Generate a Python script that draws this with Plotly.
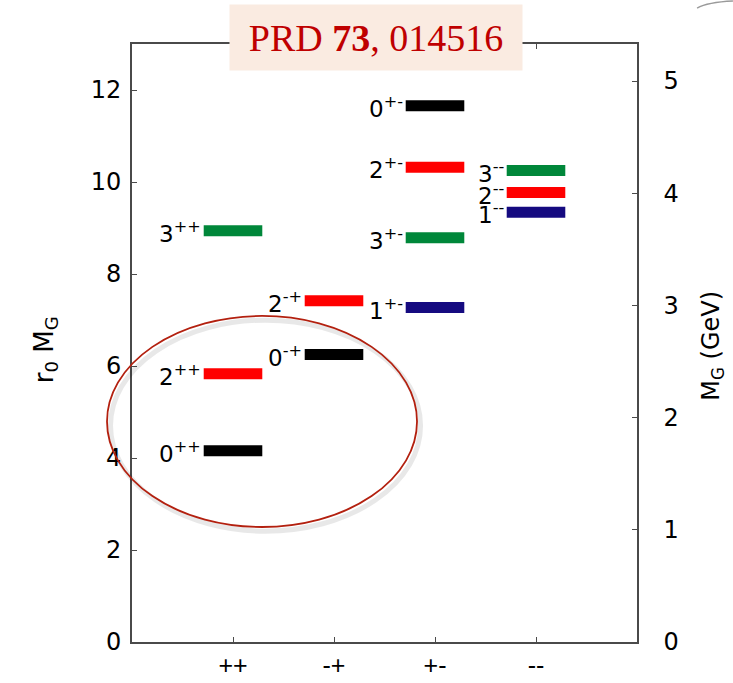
import plotly.graph_objects as go

# Quenched glueball spectrum, r0*M_G per J^PC channel
pc_labels = ["++", "-+", "+-", "--"]
pc_pos = [1, 2, 3, 4]

j_pp = ["0", "2", "3"]
m_pp = [4.16, 5.83, 8.94]

j_mp = ["0", "2"]
m_mp = [6.25, 7.42]

j_pm = ["1", "3", "2", "0"]
m_pm = [7.27, 8.79, 10.32, 11.66]

j_mm = ["1", "2", "3"]
m_mm = [9.34, 9.77, 10.25]

r0_inv_gev = 0.410          # 1/r0 in GeV
y_max = 13.0
gev_ticks = [0, 1, 2, 3, 4, 5]
r0m_ticks = [0, 2, 4, 6, 8, 10, 12]

spin_colors = {"0": "#000000", "1": "#150a80", "2": "#ff0000", "3": "#00873a"}
half_w = 0.29

channels = [
    (pc_labels[0], pc_pos[0], j_pp, m_pp),
    (pc_labels[1], pc_pos[1], j_mp, m_mp),
    (pc_labels[2], pc_pos[2], j_pm, m_pm),
    (pc_labels[3], pc_pos[3], j_mm, m_mm),
]

fig = go.Figure()
annotations = []
font_main = "DejaVu Sans, Verdana, sans-serif"
font_tick = "Liberation Sans, Arial, Helvetica, sans-serif"

for pc, xc, js, ms in channels:
    for j, m in zip(js, ms):
        fig.add_trace(go.Scatter(
            x=[xc - half_w, xc + half_w], y=[m, m], mode="lines",
            line=dict(color=spin_colors[j], width=11),
            showlegend=False, hoverinfo="skip",
        ))
        annotations.append(dict(
            x=xc - half_w, y=m, xref="x", yref="y",
            text=f"{j}<sup>{pc}</sup>", showarrow=False,
            xanchor="right", yanchor="middle", xshift=-1, yshift=-1,
            font=dict(family=font_main, size=23, color="#000000"),
        ))

# same levels on the GeV scale, carried by the right-hand axis
all_m = m_pp + m_mp + m_pm + m_mm
all_x = [pc_pos[0]] * len(m_pp) + [pc_pos[1]] * len(m_mp) + [pc_pos[2]] * len(m_pm) + [pc_pos[3]] * len(m_mm)
fig.add_trace(go.Scatter(
    x=all_x, y=[v * r0_inv_gev for v in all_m], yaxis="y2",
    mode="markers", marker=dict(size=1, opacity=0),
    showlegend=False, hoverinfo="skip",
))

# axis titles
annotations.append(dict(
    x=-0.172, y=0.488, xref="paper", yref="paper",
    xanchor="center", yanchor="middle",
    text="r<sub>0</sub> M<sub>G</sub>", textangle=-90, showarrow=False,
    font=dict(family=font_main, size=26, color="#000000"),
))
annotations.append(dict(
    x=1.150, y=0.495, xref="paper", yref="paper",
    xanchor="center", yanchor="middle",
    text="M<sub>G</sub> (GeV)", textangle=-90, showarrow=False,
    font=dict(family=font_main, size=24, color="#000000"),
))

# reference box
annotations.append(dict(
    x=0.483, y=1.0109, xref="paper", yref="paper",
    text="PRD <b>73</b>, 014516", showarrow=False,
    xanchor="center", yanchor="middle",
    width=292, height=65, borderpad=0, bgcolor="#faebe1",
    font=dict(family="Liberation Serif, Times New Roman, serif", size=38, color="#bf0000"),
))

axis_line = "#4a4a4a"
fig.update_layout(
    width=733, height=683,
    margin=dict(l=132, r=96, t=44, b=41, autoexpand=False),
    paper_bgcolor="white", plot_bgcolor="white",
    showlegend=False,
    xaxis=dict(
        range=[0, 5], tickvals=pc_pos, ticktext=pc_labels,
        showline=True, linecolor=axis_line, linewidth=1.6, mirror="ticks",
        ticks="inside", ticklen=5, tickwidth=1.2, tickcolor=axis_line,
        showgrid=False, zeroline=False, ticklabelstandoff=0, automargin=False,
        tickfont=dict(family=font_tick, size=25, color="#000000"),
    ),
    yaxis=dict(
        range=[0, y_max], tickvals=r0m_ticks,
        showline=True, linecolor=axis_line, linewidth=1.6,
        ticks="inside", ticklen=5, tickwidth=1.2, tickcolor=axis_line,
        showgrid=False, zeroline=False, ticklabelstandoff=4, automargin=False,
        tickfont=dict(family=font_main, size=24, color="#000000"),
    ),
    yaxis2=dict(
        range=[0, y_max * r0_inv_gev], tickvals=gev_ticks,
        overlaying="y", side="right",
        showline=True, linecolor=axis_line, linewidth=1.6,
        ticks="inside", ticklen=5, tickwidth=1.2, tickcolor=axis_line,
        showgrid=False, zeroline=False, ticklabelstandoff=20, automargin=False,
        tickfont=dict(family=font_main, size=24, color="#000000"),
    ),
    annotations=annotations,
    shapes=[
        # soft shadow under the highlight ellipse
        dict(type="circle", xref="paper", yref="paper", layer="above",
             x0=-0.0425, x1=0.5714, y0=0.1853, y1=0.5382,
             line=dict(color="rgba(0,0,0,0.09)", width=5)),
        dict(type="circle", xref="paper", yref="paper", layer="above",
             x0=-0.0495, x1=0.5644, y0=0.1923, y1=0.5452,
             line=dict(color="#b3200f", width=1.8)),
        # thin stroke at the top-right corner of the page
        dict(type="path", xref="paper", yref="paper", layer="above",
             path="M 1.119 1.060 Q 1.14 1.070 1.19 1.0719",
             line=dict(color="#9a9a9a", width=1.5)),
    ],
)

fig.write_html("out.html")
